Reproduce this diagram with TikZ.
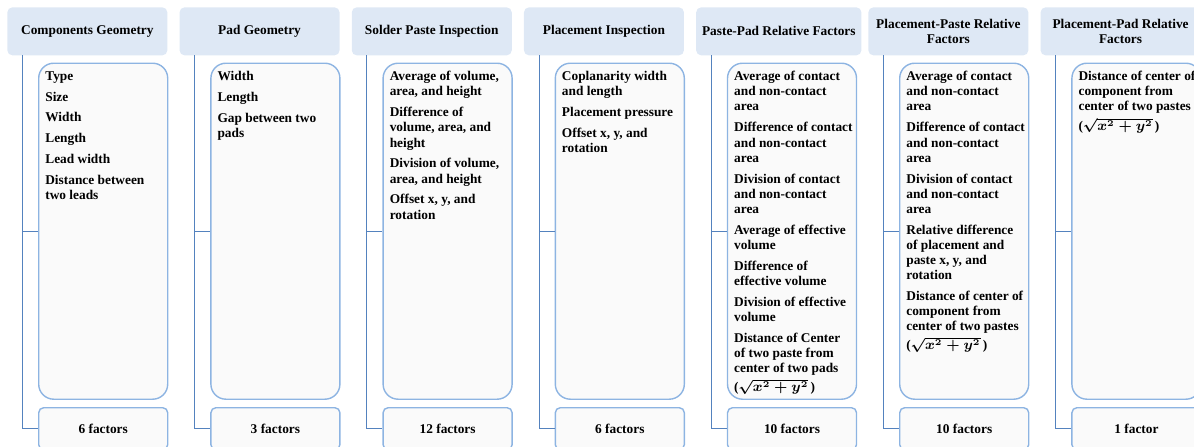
\documentclass[tikz,border=0pt]{standalone}
\usepackage{fontspec}
\setmainfont{Liberation Serif}
\usetikzlibrary{positioning}
\definecolor{hdrfill}{RGB}{222,232,245}
\definecolor{boxline}{RGB}{141,180,226}
\definecolor{linkline}{RGB}{84,130,190}
\definecolor{boxfill}{RGB}{250,250,250}
\tikzset{
  header/.style={anchor=north west, fill=hdrfill, rounded corners=0.1cm,
    minimum width=3.2cm, minimum height=0.96cm, align=center,
    font=\fontsize{7.6}{8.6}\selectfont\bfseries},
  listbox/.style={anchor=north west, draw=boxline, line width=0.8pt, fill=boxfill,
    rounded corners=0.3cm, minimum width=2.58cm, minimum height=6.72cm},
  listtext/.style={anchor=north west, align=left, inner sep=0pt,
    font=\fontsize{7.6}{8.6}\selectfont\bfseries\boldmath},
  countbox/.style={anchor=north west, draw=boxline, line width=0.8pt, fill=boxfill,
    rounded corners=0.1cm, minimum width=2.58cm, minimum height=0.84cm,
    font=\fontsize{7.6}{8.6}\selectfont\bfseries},
  link/.style={draw=linkline, line width=0.6pt}
}
\begin{document}
\begin{tikzpicture}
\useasboundingbox (0,0) rectangle (23.88,-8.92);
% Components Geometry
\def\x{0.14}
\node[header] (geo) at (\x,-0.14) {Components Geometry};
\node[listbox] (geobox) at (\x+0.62,-1.25) {};
\node[listtext, below right=0.17cm and 0.14cm of geobox.north west] (geolist) {
Type\\[3.3pt]
Size\\[3.3pt]
Width\\[3.3pt]
Length\\[3.3pt]
Lead width\\[3.3pt]
Distance between\\two leads};
\node[countbox] (geocount) at (\x+0.62,-8.14) {6 factors};
\coordinate (geotop) at (\x+0.31,-1.1);
\draw[link] (geotop) |- (geocount.west);
\draw[link] (geotop |- geobox.west) -- (geobox.west);
% Pad Geometry
\def\x{3.584}
\node[header] (pad) at (\x,-0.14) {Pad Geometry};
\node[listbox] (padbox) at (\x+0.62,-1.25) {};
\node[listtext, below right=0.17cm and 0.14cm of padbox.north west] (padlist) {
Width\\[3.3pt]
Length\\[3.3pt]
Gap between two\\pads};
\node[countbox] (padcount) at (\x+0.62,-8.14) {3 factors};
\coordinate (padtop) at (\x+0.31,-1.1);
\draw[link] (padtop) |- (padcount.west);
\draw[link] (padtop |- padbox.west) -- (padbox.west);
% Solder Paste Inspection
\def\x{7.028}
\node[header] (spi) at (\x,-0.14) {Solder Paste Inspection};
\node[listbox] (spibox) at (\x+0.62,-1.25) {};
\node[listtext, below right=0.17cm and 0.14cm of spibox.north west] (spilist) {
Average of volume,\\area, and height\\[3.3pt]
Difference of\\volume, area, and\\height\\[3.3pt]
Division of volume,\\area, and height\\[3.3pt]
Offset x, y, and\\rotation};
\node[countbox] (spicount) at (\x+0.62,-8.14) {12 factors};
\coordinate (spitop) at (\x+0.31,-1.1);
\draw[link] (spitop) |- (spicount.west);
\draw[link] (spitop |- spibox.west) -- (spibox.west);
% Placement Inspection
\def\x{10.472}
\node[header] (plc) at (\x,-0.14) {Placement Inspection};
\node[listbox] (plcbox) at (\x+0.62,-1.25) {};
\node[listtext, below right=0.17cm and 0.14cm of plcbox.north west] (plclist) {
Coplanarity width\\and length\\[3.3pt]
Placement pressure\\[3.3pt]
Offset x, y, and\\rotation};
\node[countbox] (plccount) at (\x+0.62,-8.14) {6 factors};
\coordinate (plctop) at (\x+0.31,-1.1);
\draw[link] (plctop) |- (plccount.west);
\draw[link] (plctop |- plcbox.west) -- (plcbox.west);
% Paste-Pad Relative Factors
\def\x{13.916}
\node[header] (ppd) at (\x,-0.14) {Paste-Pad Relative Factors};
\node[listbox] (ppdbox) at (\x+0.62,-1.25) {};
\node[listtext, below right=0.17cm and 0.14cm of ppdbox.north west] (ppdlist) {
Average of contact\\and non-contact\\area\\[3.3pt]
Difference of contact\\and non-contact\\area\\[3.3pt]
Division of contact\\and non-contact\\area\\[3.3pt]
Average of effective\\volume\\[3.3pt]
Difference of\\effective volume\\[3.3pt]
Division of effective\\volume\\[3.3pt]
Distance of Center\\of two paste from\\center of two pads\\[1.2pt]($\sqrt{x^2+y^2}$\,)};
\node[countbox] (ppdcount) at (\x+0.62,-8.14) {10 factors};
\coordinate (ppdtop) at (\x+0.31,-1.1);
\draw[link] (ppdtop) |- (ppdcount.west);
\draw[link] (ppdtop |- ppdbox.west) -- (ppdbox.west);
% Placement-Paste Relative Factors
\def\x{17.36}
\node[header] (pps) at (\x,-0.14) {Placement-Paste Relative\\Factors};
\node[listbox] (ppsbox) at (\x+0.62,-1.25) {};
\node[listtext, below right=0.17cm and 0.14cm of ppsbox.north west] (ppslist) {
Average of contact\\and non-contact\\area\\[3.3pt]
Difference of contact\\and non-contact\\area\\[3.3pt]
Division of contact\\and non-contact\\area\\[3.3pt]
Relative difference\\of placement and\\paste x, y, and\\rotation\\[3.3pt]
Distance of center of\\component from\\center of two pastes\\[1.2pt]($\sqrt{x^2+y^2}$\,)};
\node[countbox] (ppscount) at (\x+0.62,-8.14) {10 factors};
\coordinate (ppstop) at (\x+0.31,-1.1);
\draw[link] (ppstop) |- (ppscount.west);
\draw[link] (ppstop |- ppsbox.west) -- (ppsbox.west);
% Placement-Pad Relative Factors
\def\x{20.804}
\node[header] (pmp) at (\x,-0.14) {Placement-Pad Relative\\Factors};
\node[listbox] (pmpbox) at (\x+0.62,-1.25) {};
\node[listtext, below right=0.17cm and 0.14cm of pmpbox.north west] (pmplist) {
Distance of center of\\component from\\center of two pastes\\[1.2pt]($\sqrt{x^2+y^2}$\,)};
\node[countbox] (pmpcount) at (\x+0.62,-8.14) {1 factor};
\coordinate (pmptop) at (\x+0.31,-1.1);
\draw[link] (pmptop) |- (pmpcount.west);
\draw[link] (pmptop |- pmpbox.west) -- (pmpbox.west);
\end{tikzpicture}
\end{document}
